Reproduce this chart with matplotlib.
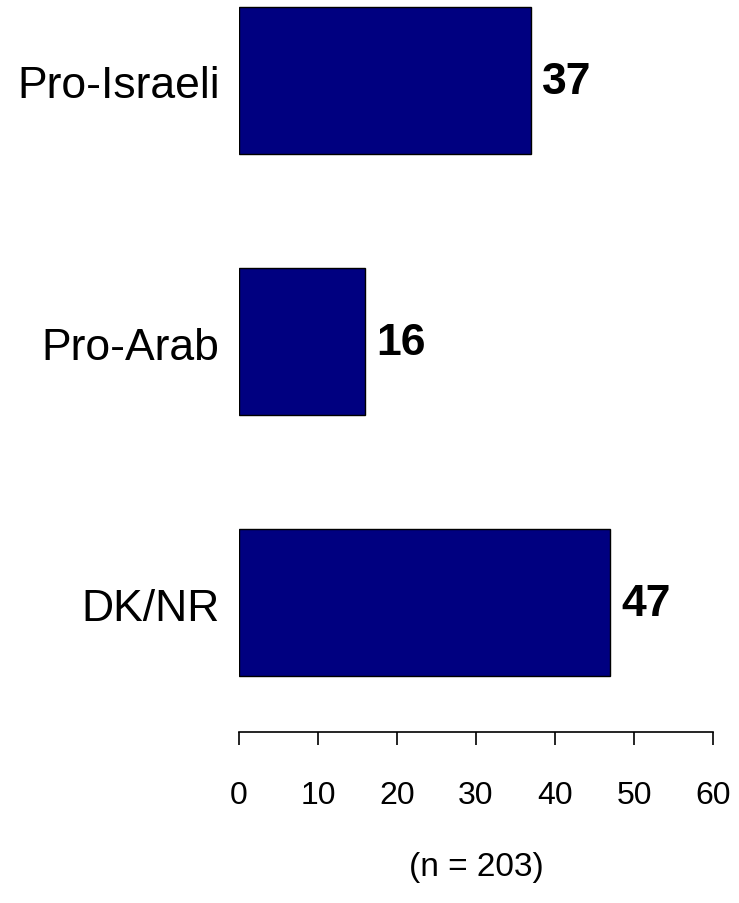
import matplotlib
matplotlib.use("Agg")
import matplotlib.pyplot as plt

categories = ["Pro-Israeli", "Pro-Arab", "DK/NR"]
values = [37, 16, 47]
xticks = [0, 10, 20, 30, 40, 50, 60]
note = "(n = 203)"

plt.rcParams["font.family"] = ["Liberation Sans", "DejaVu Sans"]

fig = plt.figure(figsize=(7.39, 9.04), dpi=100)
ax = fig.add_axes([239/739, (904-733)/904, 474/739, 733/904])

ypos = list(range(len(categories)))
ax.barh(ypos, values, height=0.56, color="#000080", edgecolor="black", linewidth=1)
for y, v in zip(ypos, values):
    ax.annotate(str(v), (v, y), xytext=(8, -1), textcoords="offset points",
                ha="left", va="center", fontsize=32, fontweight="bold")

# category labels (offset slightly below bar centres, as in the reference)
for y, c in zip(ypos, categories):
    ax.annotate(c, (0, y), xycoords=("axes fraction", "data"),
                xytext=(-14, -4), textcoords="offset points",
                ha="right", va="center", fontsize=32, annotation_clip=False)

ax.set_xlim(0, 60)
ax.set_ylim(2.496, -0.312)
ax.set_xticks(xticks)
ax.set_xticklabels([str(t) for t in xticks], fontsize=23)
ax.set_yticks([])
ax.tick_params(axis="x", length=9.5, width=1.2, pad=25)
for s in ["top", "right", "left"]:
    ax.spines[s].set_visible(False)
ax.spines["bottom"].set_linewidth(1.2)

fig.text(476/739, 1 - 868/904, note, ha="center", va="center", fontsize=24)

fig.savefig("out.png", dpi=100)
